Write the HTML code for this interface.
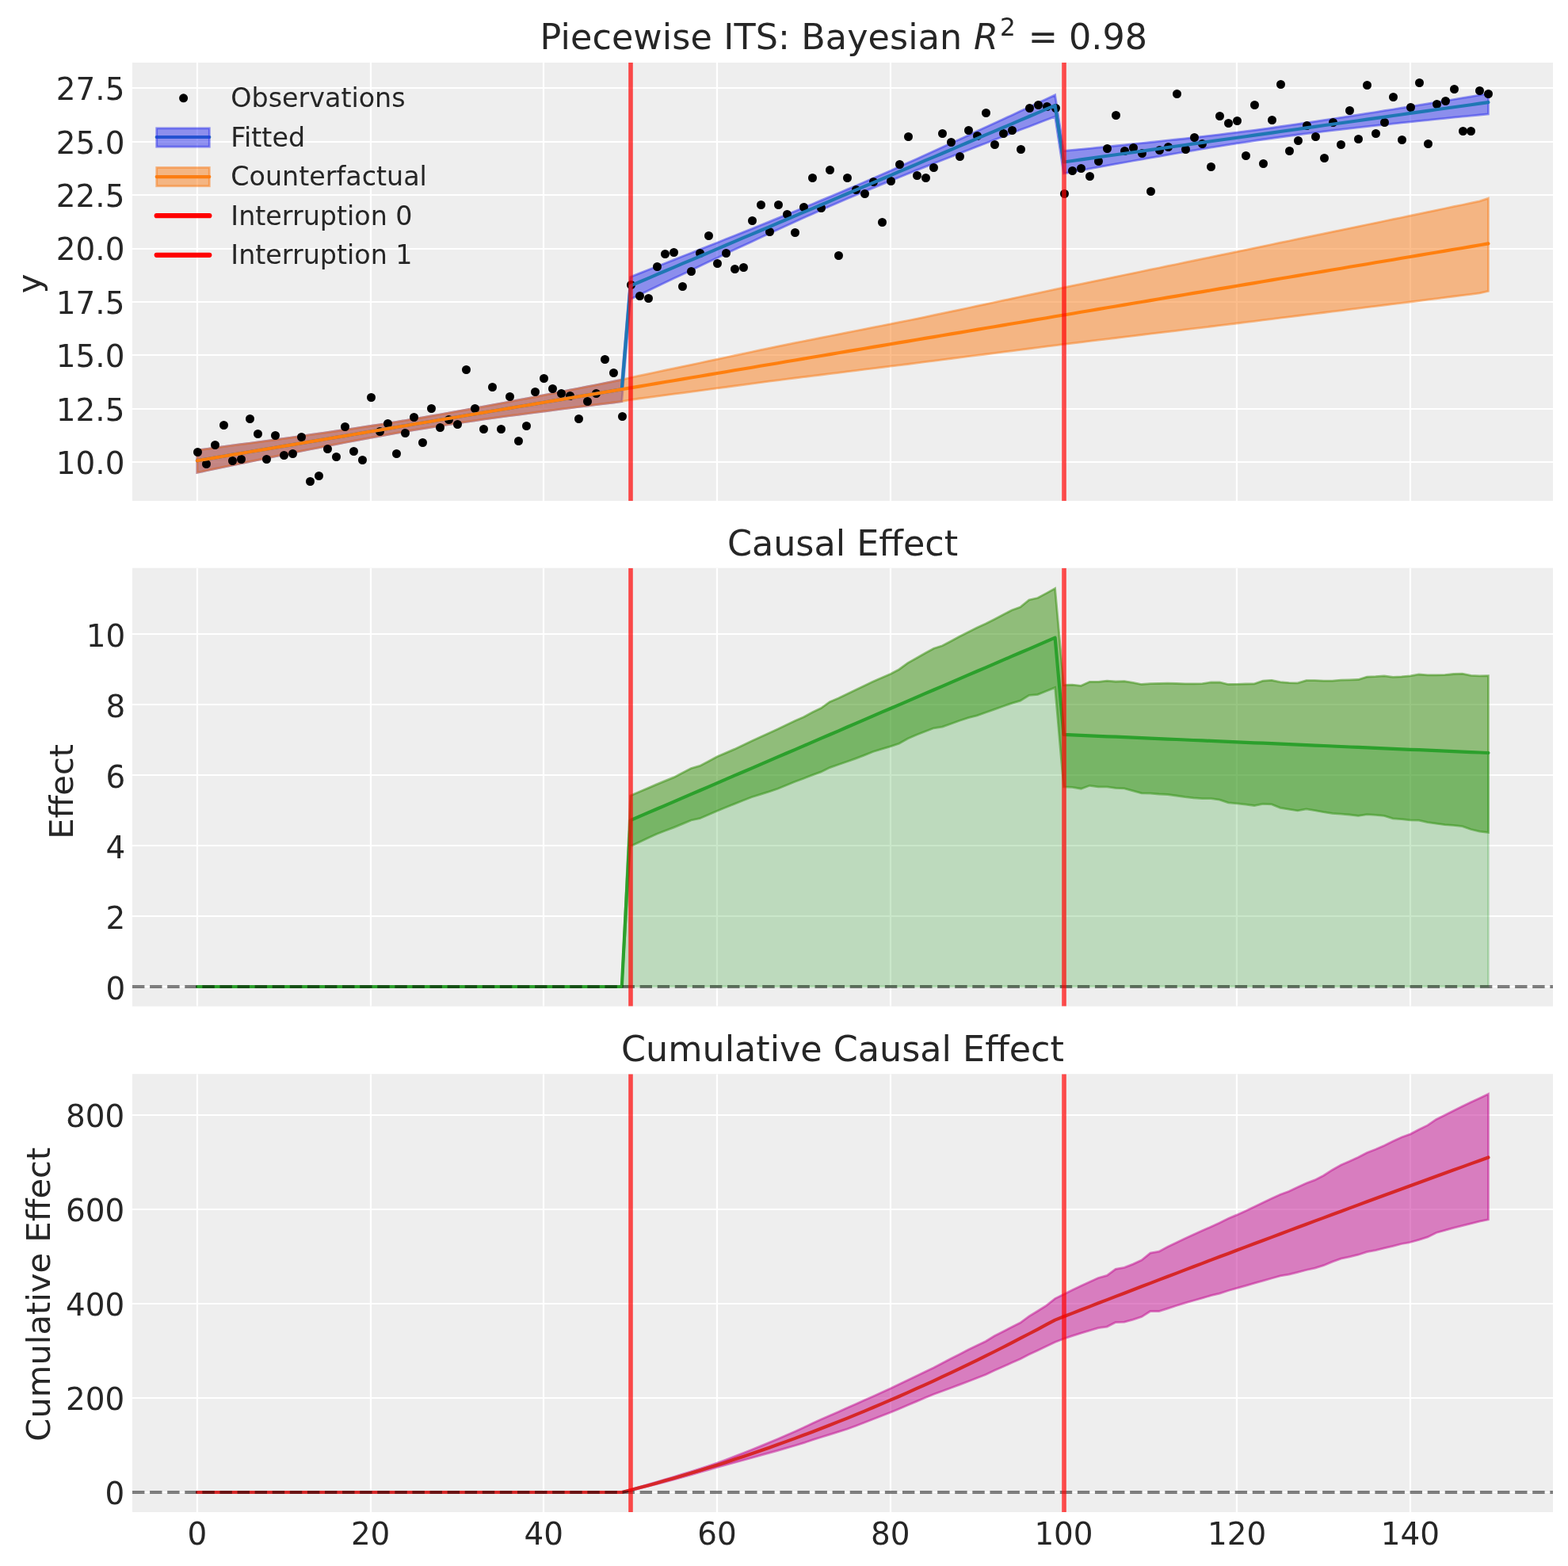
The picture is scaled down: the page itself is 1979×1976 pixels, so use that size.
<!DOCTYPE html>
<html lang="en"><head><meta charset="utf-8"><title>Piecewise ITS</title>
<style>html,body{margin:0;padding:0;background:#fff;overflow:hidden}svg{display:block}</style></head>
<body>
<svg width="1979" height="1976" viewBox="0 0 1979 1976" font-family='"DejaVu Sans", "Liberation Sans", sans-serif' fill="#262626">
<rect width="1979" height="1976" fill="#fff"/>
<defs>
<clipPath id="c1"><rect x="167.0" y="79.0" width="1793.0" height="553.0"/></clipPath>
<clipPath id="c2"><rect x="167.0" y="716.7" width="1793.0" height="553.0999999999999"/></clipPath>
<clipPath id="c3"><rect x="167.0" y="1355.2" width="1793.0" height="552.8"/></clipPath>
</defs>
<rect x="167.0" y="79.0" width="1793.0" height="553.0" fill="#eeeeee"/>
<g stroke="#fff" stroke-width="2.22" clip-path="url(#c1)">
<line x1="249" y1="79.0" x2="249" y2="632.0"/>
<line x1="468" y1="79.0" x2="468" y2="632.0"/>
<line x1="686" y1="79.0" x2="686" y2="632.0"/>
<line x1="905" y1="79.0" x2="905" y2="632.0"/>
<line x1="1124" y1="79.0" x2="1124" y2="632.0"/>
<line x1="1342" y1="79.0" x2="1342" y2="632.0"/>
<line x1="1561" y1="79.0" x2="1561" y2="632.0"/>
<line x1="1780" y1="79.0" x2="1780" y2="632.0"/>
<line x1="167.0" y1="583.00" x2="1960.0" y2="583.00"/>
<line x1="167.0" y1="516.00" x2="1960.0" y2="516.00"/>
<line x1="167.0" y1="448.00" x2="1960.0" y2="448.00"/>
<line x1="167.0" y1="381.00" x2="1960.0" y2="381.00"/>
<line x1="167.0" y1="314.00" x2="1960.0" y2="314.00"/>
<line x1="167.0" y1="246.00" x2="1960.0" y2="246.00"/>
<line x1="167.0" y1="179.00" x2="1960.0" y2="179.00"/>
<line x1="167.0" y1="111.00" x2="1960.0" y2="111.00"/>
</g>
<g clip-path="url(#c1)">
<polygon points="248.9,568.0 259.8,566.6 270.8,565.1 281.7,563.7 292.6,562.2 303.6,560.7 314.5,559.3 325.5,557.8 336.4,556.3 347.3,554.8 358.3,553.3 369.2,551.8 380.1,550.3 391.1,548.7 402.0,547.2 412.9,545.6 423.9,544.0 434.8,542.4 445.7,540.8 456.7,539.1 467.6,537.5 478.6,535.8 489.5,534.0 500.4,532.3 511.4,530.5 522.3,528.6 533.2,526.8 544.2,524.9 555.1,523.0 566.0,521.1 577.0,519.1 587.9,517.2 598.9,515.2 609.8,513.2 620.7,511.1 631.7,509.1 642.6,507.0 653.5,504.9 664.5,502.9 675.4,500.8 686.3,498.6 697.3,496.5 708.2,494.4 719.1,492.2 730.1,490.1 741.0,487.9 752.0,485.8 762.9,483.6 773.8,481.4 784.8,479.2 795.7,349.4 806.6,345.1 817.6,340.8 828.5,336.5 839.4,332.2 850.4,327.9 861.3,323.5 872.3,319.2 883.2,314.9 894.1,310.5 905.1,306.2 916.0,301.8 926.9,297.5 937.9,293.1 948.8,288.7 959.7,284.3 970.7,279.9 981.6,275.4 992.5,271.0 1003.5,266.5 1014.4,262.0 1025.4,257.5 1036.3,252.9 1047.2,248.4 1058.2,243.8 1069.1,239.1 1080.0,234.5 1091.0,229.8 1101.9,225.0 1112.8,220.2 1123.8,215.4 1134.7,210.5 1145.7,205.6 1156.6,200.7 1167.5,195.7 1178.5,190.7 1189.4,185.7 1200.3,180.7 1211.3,175.7 1222.2,170.7 1233.1,165.6 1244.1,160.6 1255.0,155.5 1265.9,150.4 1276.9,145.4 1287.8,140.3 1298.8,135.2 1309.7,130.1 1320.6,125.0 1331.6,119.9 1342.5,190.5 1353.4,189.4 1364.4,188.3 1375.3,187.3 1386.2,186.2 1397.2,185.1 1408.1,184.0 1419.1,182.9 1430.0,181.7 1440.9,180.6 1451.9,179.5 1462.8,178.3 1473.7,177.2 1484.7,176.0 1495.6,174.8 1506.5,173.6 1517.5,172.3 1528.4,171.1 1539.3,169.8 1550.3,168.4 1561.2,167.1 1572.2,165.7 1583.1,164.3 1594.0,162.8 1605.0,161.3 1615.9,159.7 1626.8,158.2 1637.8,156.6 1648.7,155.0 1659.6,153.3 1670.6,151.7 1681.5,150.0 1692.5,148.3 1703.4,146.7 1714.3,144.9 1725.3,143.2 1736.2,141.5 1747.1,139.7 1758.1,138.0 1769.0,136.2 1779.9,134.5 1790.9,132.7 1801.8,130.9 1812.7,129.1 1823.7,127.3 1834.6,125.5 1845.6,123.7 1856.5,121.9 1867.4,120.0 1878.4,118.2 1878.4,143.9 1867.4,145.0 1856.5,146.1 1845.6,147.1 1834.6,148.2 1823.7,149.3 1812.7,150.4 1801.8,151.6 1790.9,152.7 1779.9,153.8 1769.0,154.9 1758.1,156.1 1747.1,157.3 1736.2,158.4 1725.3,159.6 1714.3,160.8 1703.4,162.1 1692.5,163.3 1681.5,164.6 1670.6,165.9 1659.6,167.3 1648.7,168.6 1637.8,170.0 1626.8,171.5 1615.9,173.0 1605.0,174.5 1594.0,176.0 1583.1,177.6 1572.2,179.3 1561.2,180.9 1550.3,182.6 1539.3,184.4 1528.4,186.1 1517.5,187.9 1506.5,189.8 1495.6,191.6 1484.7,193.5 1473.7,195.4 1462.8,197.3 1451.9,199.2 1440.9,201.1 1430.0,203.0 1419.1,205.0 1408.1,206.9 1397.2,208.9 1386.2,210.9 1375.3,212.8 1364.4,214.8 1353.4,216.8 1342.5,218.8 1331.6,147.1 1320.6,151.3 1309.7,155.5 1298.8,159.7 1287.8,163.8 1276.9,168.0 1265.9,172.3 1255.0,176.5 1244.1,180.7 1233.1,184.9 1222.2,189.2 1211.3,193.4 1200.3,197.7 1189.4,202.0 1178.5,206.3 1167.5,210.6 1156.6,214.9 1145.7,219.3 1134.7,223.7 1123.8,228.1 1112.8,232.6 1101.9,237.1 1091.0,241.6 1080.0,246.2 1069.1,250.8 1058.2,255.5 1047.2,260.2 1036.3,265.0 1025.4,269.9 1014.4,274.8 1003.5,279.7 992.5,284.7 981.6,289.7 970.7,294.7 959.7,299.8 948.8,304.9 937.9,310.0 926.9,315.1 916.0,320.3 905.1,325.4 894.1,330.6 883.2,335.8 872.3,341.0 861.3,346.2 850.4,351.3 839.4,356.5 828.5,361.8 817.6,367.0 806.6,372.2 795.7,377.4 784.8,506.6 773.8,508.0 762.9,509.3 752.0,510.7 741.0,512.0 730.1,513.4 719.1,514.8 708.2,516.2 697.3,517.6 686.3,519.0 675.4,520.4 664.5,521.8 653.5,523.3 642.6,524.7 631.7,526.2 620.7,527.7 609.8,529.2 598.9,530.8 587.9,532.4 577.0,534.0 566.0,535.6 555.1,537.3 544.2,539.1 533.2,540.8 522.3,542.6 511.4,544.5 500.4,546.4 489.5,548.3 478.6,550.3 467.6,552.3 456.7,554.3 445.7,556.4 434.8,558.5 423.9,560.6 412.9,562.7 402.0,564.9 391.1,567.0 380.1,569.2 369.2,571.4 358.3,573.6 347.3,575.9 336.4,578.1 325.5,580.4 314.5,582.6 303.6,584.9 292.6,587.2 281.7,589.4 270.8,591.7 259.8,594.0 248.9,596.3" fill="#2a2eec" fill-opacity="0.5" stroke="#2a2eec" stroke-opacity="0.5" stroke-width="2.78" stroke-linejoin="miter"/>
<polygon points="248.9,568.0 259.8,566.6 270.8,565.1 281.7,563.7 292.6,562.2 303.6,560.7 314.5,559.3 325.5,557.8 336.4,556.3 347.3,554.8 358.3,553.3 369.2,551.8 380.1,550.3 391.1,548.7 402.0,547.2 412.9,545.6 423.9,544.0 434.8,542.4 445.7,540.8 456.7,539.1 467.6,537.5 478.6,535.8 489.5,534.0 500.4,532.3 511.4,530.5 522.3,528.6 533.2,526.8 544.2,524.9 555.1,523.0 566.0,521.1 577.0,519.1 587.9,517.2 598.9,515.2 609.8,513.2 620.7,511.1 631.7,509.1 642.6,507.0 653.5,504.9 664.5,502.9 675.4,500.8 686.3,498.6 697.3,496.5 708.2,494.4 719.1,492.2 730.1,490.1 741.0,487.9 752.0,485.8 762.9,483.6 773.8,481.4 784.8,479.2 795.7,476.5 806.6,474.2 817.6,471.9 828.5,469.5 839.4,467.2 850.4,464.9 861.3,462.6 872.3,460.3 883.2,458.0 894.1,455.6 905.1,453.3 916.0,451.0 926.9,448.7 937.9,446.4 948.8,444.0 959.7,441.7 970.7,439.4 981.6,437.1 992.5,434.9 1003.5,432.7 1014.4,430.5 1025.4,428.4 1036.3,426.2 1047.2,424.0 1058.2,421.8 1069.1,419.7 1080.0,417.5 1091.0,415.3 1101.9,413.2 1112.8,411.0 1123.8,408.8 1134.7,406.7 1145.7,404.5 1156.6,402.3 1167.5,400.1 1178.5,397.7 1189.4,395.4 1200.3,393.1 1211.3,390.8 1222.2,388.5 1233.1,386.1 1244.1,383.8 1255.0,381.5 1265.9,379.2 1276.9,376.8 1287.8,374.5 1298.8,372.2 1309.7,369.9 1320.6,367.5 1331.6,365.2 1342.5,362.9 1353.4,360.6 1364.4,358.4 1375.3,356.1 1386.2,353.8 1397.2,351.6 1408.1,349.3 1419.1,347.0 1430.0,344.8 1440.9,342.5 1451.9,340.2 1462.8,338.0 1473.7,335.7 1484.7,333.5 1495.6,331.2 1506.5,328.9 1517.5,326.7 1528.4,324.4 1539.3,322.1 1550.3,319.9 1561.2,317.6 1572.2,315.3 1583.1,313.1 1594.0,310.8 1605.0,308.5 1615.9,306.2 1626.8,304.0 1637.8,301.7 1648.7,299.4 1659.6,297.2 1670.6,294.9 1681.5,292.6 1692.5,290.3 1703.4,288.1 1714.3,285.8 1725.3,283.5 1736.2,281.3 1747.1,279.0 1758.1,276.7 1769.0,274.5 1779.9,272.2 1790.9,269.9 1801.8,267.6 1812.7,265.3 1823.7,263.0 1834.6,260.7 1845.6,258.5 1856.5,256.2 1867.4,253.9 1878.4,250.2 1878.4,367.4 1867.4,369.9 1856.5,371.3 1845.6,372.7 1834.6,374.0 1823.7,375.4 1812.7,376.8 1801.8,378.2 1790.9,379.6 1779.9,381.0 1769.0,382.3 1758.1,383.7 1747.1,385.0 1736.2,386.4 1725.3,387.7 1714.3,389.1 1703.4,390.4 1692.5,391.8 1681.5,393.1 1670.6,394.5 1659.6,395.8 1648.7,397.2 1637.8,398.5 1626.8,399.9 1615.9,401.2 1605.0,402.6 1594.0,403.9 1583.1,405.3 1572.2,406.6 1561.2,408.0 1550.3,409.3 1539.3,410.7 1528.4,412.0 1517.5,413.3 1506.5,414.6 1495.6,415.9 1484.7,417.3 1473.7,418.6 1462.8,419.9 1451.9,421.2 1440.9,422.5 1430.0,423.9 1419.1,425.2 1408.1,426.5 1397.2,427.8 1386.2,429.1 1375.3,430.4 1364.4,431.8 1353.4,433.1 1342.5,434.4 1331.6,435.8 1320.6,437.2 1309.7,438.6 1298.8,440.0 1287.8,441.4 1276.9,442.8 1265.9,444.2 1255.0,445.6 1244.1,447.0 1233.1,448.3 1222.2,449.7 1211.3,451.1 1200.3,452.5 1189.4,453.9 1178.5,455.3 1167.5,456.7 1156.6,458.1 1145.7,459.5 1134.7,460.8 1123.8,462.2 1112.8,463.5 1101.9,464.9 1091.0,466.2 1080.0,467.6 1069.1,468.9 1058.2,470.3 1047.2,471.6 1036.3,473.0 1025.4,474.3 1014.4,475.7 1003.5,477.0 992.5,478.4 981.6,479.8 970.7,481.2 959.7,482.7 948.8,484.1 937.9,485.6 926.9,487.0 916.0,488.5 905.1,489.9 894.1,491.4 883.2,492.9 872.3,494.3 861.3,495.8 850.4,497.2 839.4,498.7 828.5,500.1 817.6,501.6 806.6,503.0 795.7,504.5 784.8,506.6 773.8,508.0 762.9,509.3 752.0,510.7 741.0,512.0 730.1,513.4 719.1,514.8 708.2,516.2 697.3,517.6 686.3,519.0 675.4,520.4 664.5,521.8 653.5,523.3 642.6,524.7 631.7,526.2 620.7,527.7 609.8,529.2 598.9,530.8 587.9,532.4 577.0,534.0 566.0,535.6 555.1,537.3 544.2,539.1 533.2,540.8 522.3,542.6 511.4,544.5 500.4,546.4 489.5,548.3 478.6,550.3 467.6,552.3 456.7,554.3 445.7,556.4 434.8,558.5 423.9,560.6 412.9,562.7 402.0,564.9 391.1,567.0 380.1,569.2 369.2,571.4 358.3,573.6 347.3,575.9 336.4,578.1 325.5,580.4 314.5,582.6 303.6,584.9 292.6,587.2 281.7,589.4 270.8,591.7 259.8,594.0 248.9,596.3" fill="#fa7c17" fill-opacity="0.5" stroke="#fa7c17" stroke-opacity="0.5" stroke-width="2.78" stroke-linejoin="miter"/>
<g fill="#000"><circle cx="249.5" cy="570.5" r="5.5"/><circle cx="260.5" cy="585.5" r="5.5"/><circle cx="271.5" cy="561.5" r="5.5"/><circle cx="282.5" cy="536.5" r="5.5"/><circle cx="293.5" cy="581.5" r="5.5"/><circle cx="304.5" cy="579.5" r="5.5"/><circle cx="315.5" cy="528.5" r="5.5"/><circle cx="325.5" cy="547.5" r="5.5"/><circle cx="336.5" cy="579.5" r="5.5"/><circle cx="347.5" cy="549.5" r="5.5"/><circle cx="358.5" cy="574.5" r="5.5"/><circle cx="369.5" cy="572.5" r="5.5"/><circle cx="380.5" cy="551.5" r="5.5"/><circle cx="391.5" cy="607.5" r="5.5"/><circle cx="402.5" cy="600.5" r="5.5"/><circle cx="413.5" cy="566.5" r="5.5"/><circle cx="424.5" cy="576.5" r="5.5"/><circle cx="435.5" cy="538.5" r="5.5"/><circle cx="446.5" cy="569.5" r="5.5"/><circle cx="457.5" cy="580.5" r="5.5"/><circle cx="468.5" cy="501.5" r="5.5"/><circle cx="479.5" cy="544.5" r="5.5"/><circle cx="489.5" cy="534.5" r="5.5"/><circle cx="500.5" cy="572.5" r="5.5"/><circle cx="511.5" cy="546.5" r="5.5"/><circle cx="522.5" cy="526.5" r="5.5"/><circle cx="533.5" cy="558.5" r="5.5"/><circle cx="544.5" cy="515.5" r="5.5"/><circle cx="555.5" cy="539.5" r="5.5"/><circle cx="566.5" cy="529.5" r="5.5"/><circle cx="577.5" cy="535.5" r="5.5"/><circle cx="588.5" cy="466.5" r="5.5"/><circle cx="599.5" cy="515.5" r="5.5"/><circle cx="610.5" cy="541.5" r="5.5"/><circle cx="621.5" cy="488.5" r="5.5"/><circle cx="632.5" cy="541.5" r="5.5"/><circle cx="643.5" cy="500.5" r="5.5"/><circle cx="654.5" cy="556.5" r="5.5"/><circle cx="664.5" cy="537.5" r="5.5"/><circle cx="675.5" cy="494.5" r="5.5"/><circle cx="686.5" cy="477.5" r="5.5"/><circle cx="697.5" cy="490.5" r="5.5"/><circle cx="708.5" cy="496.5" r="5.5"/><circle cx="719.5" cy="499.5" r="5.5"/><circle cx="730.5" cy="528.5" r="5.5"/><circle cx="741.5" cy="506.5" r="5.5"/><circle cx="752.5" cy="496.5" r="5.5"/><circle cx="763.5" cy="453.5" r="5.5"/><circle cx="774.5" cy="470.5" r="5.5"/><circle cx="785.5" cy="525.5" r="5.5"/><circle cx="796.5" cy="359.5" r="5.5"/><circle cx="807.5" cy="373.5" r="5.5"/><circle cx="818.5" cy="376.5" r="5.5"/><circle cx="829.5" cy="336.5" r="5.5"/><circle cx="839.5" cy="320.5" r="5.5"/><circle cx="850.5" cy="318.5" r="5.5"/><circle cx="861.5" cy="361.5" r="5.5"/><circle cx="872.5" cy="342.5" r="5.5"/><circle cx="883.5" cy="319.5" r="5.5"/><circle cx="894.5" cy="297.5" r="5.5"/><circle cx="905.5" cy="332.5" r="5.5"/><circle cx="916.5" cy="319.5" r="5.5"/><circle cx="927.5" cy="339.5" r="5.5"/><circle cx="938.5" cy="337.5" r="5.5"/><circle cx="949.5" cy="278.5" r="5.5"/><circle cx="960.5" cy="258.5" r="5.5"/><circle cx="971.5" cy="292.5" r="5.5"/><circle cx="982.5" cy="258.5" r="5.5"/><circle cx="993.5" cy="270.5" r="5.5"/><circle cx="1003.5" cy="293.5" r="5.5"/><circle cx="1014.5" cy="261.5" r="5.5"/><circle cx="1025.5" cy="224.5" r="5.5"/><circle cx="1036.5" cy="262.5" r="5.5"/><circle cx="1047.5" cy="214.5" r="5.5"/><circle cx="1058.5" cy="322.5" r="5.5"/><circle cx="1069.5" cy="224.5" r="5.5"/><circle cx="1080.5" cy="239.5" r="5.5"/><circle cx="1091.5" cy="244.5" r="5.5"/><circle cx="1102.5" cy="229.5" r="5.5"/><circle cx="1113.5" cy="280.5" r="5.5"/><circle cx="1124.5" cy="228.5" r="5.5"/><circle cx="1135.5" cy="207.5" r="5.5"/><circle cx="1146.5" cy="172.5" r="5.5"/><circle cx="1157.5" cy="221.5" r="5.5"/><circle cx="1168.5" cy="224.5" r="5.5"/><circle cx="1178.5" cy="211.5" r="5.5"/><circle cx="1189.5" cy="168.5" r="5.5"/><circle cx="1200.5" cy="179.5" r="5.5"/><circle cx="1211.5" cy="197.5" r="5.5"/><circle cx="1222.5" cy="164.5" r="5.5"/><circle cx="1233.5" cy="171.5" r="5.5"/><circle cx="1244.5" cy="142.5" r="5.5"/><circle cx="1255.5" cy="182.5" r="5.5"/><circle cx="1266.5" cy="168.5" r="5.5"/><circle cx="1277.5" cy="164.5" r="5.5"/><circle cx="1288.5" cy="188.5" r="5.5"/><circle cx="1299.5" cy="136.5" r="5.5"/><circle cx="1310.5" cy="132.5" r="5.5"/><circle cx="1321.5" cy="134.5" r="5.5"/><circle cx="1332.5" cy="136.5" r="5.5"/><circle cx="1343.5" cy="244.5" r="5.5"/><circle cx="1353.5" cy="215.5" r="5.5"/><circle cx="1364.5" cy="212.5" r="5.5"/><circle cx="1375.5" cy="222.5" r="5.5"/><circle cx="1386.5" cy="203.5" r="5.5"/><circle cx="1397.5" cy="187.5" r="5.5"/><circle cx="1408.5" cy="145.5" r="5.5"/><circle cx="1419.5" cy="190.5" r="5.5"/><circle cx="1430.5" cy="186.5" r="5.5"/><circle cx="1441.5" cy="193.5" r="5.5"/><circle cx="1452.5" cy="241.5" r="5.5"/><circle cx="1463.5" cy="189.5" r="5.5"/><circle cx="1474.5" cy="185.5" r="5.5"/><circle cx="1485.5" cy="118.5" r="5.5"/><circle cx="1496.5" cy="188.5" r="5.5"/><circle cx="1507.5" cy="173.5" r="5.5"/><circle cx="1517.5" cy="181.5" r="5.5"/><circle cx="1528.5" cy="210.5" r="5.5"/><circle cx="1539.5" cy="146.5" r="5.5"/><circle cx="1550.5" cy="155.5" r="5.5"/><circle cx="1561.5" cy="152.5" r="5.5"/><circle cx="1572.5" cy="196.5" r="5.5"/><circle cx="1583.5" cy="132.5" r="5.5"/><circle cx="1594.5" cy="206.5" r="5.5"/><circle cx="1605.5" cy="151.5" r="5.5"/><circle cx="1616.5" cy="106.5" r="5.5"/><circle cx="1627.5" cy="190.5" r="5.5"/><circle cx="1638.5" cy="177.5" r="5.5"/><circle cx="1649.5" cy="158.5" r="5.5"/><circle cx="1660.5" cy="172.5" r="5.5"/><circle cx="1671.5" cy="199.5" r="5.5"/><circle cx="1682.5" cy="154.5" r="5.5"/><circle cx="1692.5" cy="182.5" r="5.5"/><circle cx="1703.5" cy="139.5" r="5.5"/><circle cx="1714.5" cy="175.5" r="5.5"/><circle cx="1725.5" cy="107.5" r="5.5"/><circle cx="1736.5" cy="168.5" r="5.5"/><circle cx="1747.5" cy="154.5" r="5.5"/><circle cx="1758.5" cy="122.5" r="5.5"/><circle cx="1769.5" cy="176.5" r="5.5"/><circle cx="1780.5" cy="135.5" r="5.5"/><circle cx="1791.5" cy="104.5" r="5.5"/><circle cx="1802.5" cy="181.5" r="5.5"/><circle cx="1813.5" cy="131.5" r="5.5"/><circle cx="1824.5" cy="127.5" r="5.5"/><circle cx="1835.5" cy="112.5" r="5.5"/><circle cx="1846.5" cy="165.5" r="5.5"/><circle cx="1856.5" cy="165.5" r="5.5"/><circle cx="1867.5" cy="114.5" r="5.5"/><circle cx="1878.5" cy="118.5" r="5.5"/></g>
<polyline points="248.9,581.3 259.8,579.5 270.8,577.6 281.7,575.8 292.6,573.9 303.6,572.1 314.5,570.3 325.5,568.4 336.4,566.6 347.3,564.8 358.3,562.9 369.2,561.1 380.1,559.2 391.1,557.4 402.0,555.6 412.9,553.7 423.9,551.9 434.8,550.1 445.7,548.2 456.7,546.4 467.6,544.5 478.6,542.7 489.5,540.9 500.4,539.0 511.4,537.2 522.3,535.3 533.2,533.5 544.2,531.7 555.1,529.8 566.0,528.0 577.0,526.2 587.9,524.3 598.9,522.5 609.8,520.6 620.7,518.8 631.7,517.0 642.6,515.1 653.5,513.3 664.5,511.5 675.4,509.6 686.3,507.8 697.3,505.9 708.2,504.1 719.1,502.3 730.1,500.4 741.0,498.6 752.0,496.8 762.9,494.9 773.8,493.1 784.8,491.2 795.7,360.6 806.6,356.0 817.6,351.3 828.5,346.7 839.4,342.0 850.4,337.4 861.3,332.7 872.3,328.1 883.2,323.5 894.1,318.8 905.1,314.2 916.0,309.5 926.9,304.9 937.9,300.2 948.8,295.6 959.7,291.0 970.7,286.3 981.6,281.7 992.5,277.0 1003.5,272.4 1014.4,267.7 1025.4,263.1 1036.3,258.5 1047.2,253.8 1058.2,249.2 1069.1,244.5 1080.0,239.9 1091.0,235.2 1101.9,230.6 1112.8,226.0 1123.8,221.3 1134.7,216.7 1145.7,212.0 1156.6,207.4 1167.5,202.7 1178.5,198.1 1189.4,193.5 1200.3,188.8 1211.3,184.2 1222.2,179.5 1233.1,174.9 1244.1,170.2 1255.0,165.6 1265.9,161.0 1276.9,156.3 1287.8,151.7 1298.8,147.0 1309.7,142.4 1320.6,137.7 1331.6,133.1 1342.5,204.5 1353.4,203.0 1364.4,201.4 1375.3,199.9 1386.2,198.3 1397.2,196.8 1408.1,195.3 1419.1,193.7 1430.0,192.2 1440.9,190.7 1451.9,189.1 1462.8,187.6 1473.7,186.0 1484.7,184.5 1495.6,183.0 1506.5,181.4 1517.5,179.9 1528.4,178.3 1539.3,176.8 1550.3,175.3 1561.2,173.7 1572.2,172.2 1583.1,170.6 1594.0,169.1 1605.0,167.6 1615.9,166.0 1626.8,164.5 1637.8,163.0 1648.7,161.4 1659.6,159.9 1670.6,158.3 1681.5,156.8 1692.5,155.3 1703.4,153.7 1714.3,152.2 1725.3,150.6 1736.2,149.1 1747.1,147.6 1758.1,146.0 1769.0,144.5 1779.9,142.9 1790.9,141.4 1801.8,139.9 1812.7,138.3 1823.7,136.8 1834.6,135.3 1845.6,133.7 1856.5,132.2 1867.4,130.6 1878.4,129.1" fill="none" stroke="#1f77b4" stroke-width="4.17" stroke-linecap="round" stroke-linejoin="round"/>
<polyline points="248.9,581.3 259.8,579.5 270.8,577.6 281.7,575.8 292.6,573.9 303.6,572.1 314.5,570.3 325.5,568.4 336.4,566.6 347.3,564.8 358.3,562.9 369.2,561.1 380.1,559.2 391.1,557.4 402.0,555.6 412.9,553.7 423.9,551.9 434.8,550.1 445.7,548.2 456.7,546.4 467.6,544.5 478.6,542.7 489.5,540.9 500.4,539.0 511.4,537.2 522.3,535.3 533.2,533.5 544.2,531.7 555.1,529.8 566.0,528.0 577.0,526.2 587.9,524.3 598.9,522.5 609.8,520.6 620.7,518.8 631.7,517.0 642.6,515.1 653.5,513.3 664.5,511.5 675.4,509.6 686.3,507.8 697.3,505.9 708.2,504.1 719.1,502.3 730.1,500.4 741.0,498.6 752.0,496.8 762.9,494.9 773.8,493.1 784.8,491.2 795.7,489.4 806.6,487.6 817.6,485.7 828.5,483.9 839.4,482.0 850.4,480.2 861.3,478.4 872.3,476.5 883.2,474.7 894.1,472.9 905.1,471.0 916.0,469.2 926.9,467.3 937.9,465.5 948.8,463.7 959.7,461.8 970.7,460.0 981.6,458.2 992.5,456.3 1003.5,454.5 1014.4,452.6 1025.4,450.8 1036.3,449.0 1047.2,447.1 1058.2,445.3 1069.1,443.4 1080.0,441.6 1091.0,439.8 1101.9,437.9 1112.8,436.1 1123.8,434.3 1134.7,432.4 1145.7,430.6 1156.6,428.7 1167.5,426.9 1178.5,425.1 1189.4,423.2 1200.3,421.4 1211.3,419.6 1222.2,417.7 1233.1,415.9 1244.1,414.0 1255.0,412.2 1265.9,410.4 1276.9,408.5 1287.8,406.7 1298.8,404.9 1309.7,403.0 1320.6,401.2 1331.6,399.3 1342.5,397.5 1353.4,395.7 1364.4,393.8 1375.3,392.0 1386.2,390.1 1397.2,388.3 1408.1,386.5 1419.1,384.6 1430.0,382.8 1440.9,381.0 1451.9,379.1 1462.8,377.3 1473.7,375.4 1484.7,373.6 1495.6,371.8 1506.5,369.9 1517.5,368.1 1528.4,366.3 1539.3,364.4 1550.3,362.6 1561.2,360.7 1572.2,358.9 1583.1,357.1 1594.0,355.2 1605.0,353.4 1615.9,351.5 1626.8,349.7 1637.8,347.9 1648.7,346.0 1659.6,344.2 1670.6,342.4 1681.5,340.5 1692.5,338.7 1703.4,336.8 1714.3,335.0 1725.3,333.2 1736.2,331.3 1747.1,329.5 1758.1,327.7 1769.0,325.8 1779.9,324.0 1790.9,322.1 1801.8,320.3 1812.7,318.5 1823.7,316.6 1834.6,314.8 1845.6,313.0 1856.5,311.1 1867.4,309.3 1878.4,307.4" fill="none" stroke="#ff7f0e" stroke-width="4.17" stroke-linecap="round" stroke-linejoin="round"/>
<line x1="796.0" y1="79.0" x2="796.0" y2="632.0" stroke="#ff0000" stroke-opacity="0.7" stroke-width="5.6"/>
<line x1="1343.0" y1="79.0" x2="1343.0" y2="632.0" stroke="#ff0000" stroke-opacity="0.7" stroke-width="5.6"/>
</g>
<text x="157.4" y="598.11" font-size="38.89" text-anchor="end">10.0</text>
<text x="157.4" y="530.68" font-size="38.89" text-anchor="end">12.5</text>
<text x="157.4" y="463.25" font-size="38.89" text-anchor="end">15.0</text>
<text x="157.4" y="395.82" font-size="38.89" text-anchor="end">17.5</text>
<text x="157.4" y="328.39" font-size="38.89" text-anchor="end">20.0</text>
<text x="157.4" y="260.96" font-size="38.89" text-anchor="end">22.5</text>
<text x="157.4" y="193.53" font-size="38.89" text-anchor="end">25.0</text>
<text x="157.4" y="126.10" font-size="38.89" text-anchor="end">27.5</text>
<circle cx="231.6" cy="123.80000000000001" r="5.5" fill="#000"/>
<line x1="197.7" y1="173.0" x2="264.3" y2="173.0" stroke="#1f77b4" stroke-width="4.17" stroke-linecap="round"/>
<rect x="197.7" y="161.83" width="66.6" height="23.33" fill="#2a2eec" fill-opacity="0.5" stroke="#2a2eec" stroke-opacity="0.5" stroke-width="2.78"/>
<line x1="197.7" y1="223.1" x2="264.3" y2="223.1" stroke="#ff7f0e" stroke-width="4.17" stroke-linecap="round"/>
<rect x="197.7" y="211.43" width="66.6" height="23.33" fill="#fa7c17" fill-opacity="0.5" stroke="#fa7c17" stroke-opacity="0.5" stroke-width="2.78"/>
<line x1="197.7" y1="272.2" x2="264.3" y2="272.2" stroke="#ff0000" stroke-width="6.2" stroke-linecap="round"/>
<line x1="197.7" y1="321.8" x2="264.3" y2="321.8" stroke="#ff0000" stroke-width="6.2" stroke-linecap="round"/>
<text x="291.3" y="135.00" font-size="33.33">Observations</text>
<text x="291.3" y="184.60" font-size="33.33">Fitted</text>
<text x="291.3" y="234.20" font-size="33.33">Counterfactual</text>
<text x="291.3" y="283.80" font-size="33.33">Interruption 0</text>
<text x="291.3" y="333.40" font-size="33.33">Interruption 1</text>
<text y="62.0" font-size="44.44"><tspan x="681.6" letter-spacing="0.1">Piecewise ITS: Bayesian </tspan><tspan font-style="italic" x="1229.0">R</tspan><tspan font-size="31.11" x="1262.0" y="44.8">2</tspan><tspan x="1283.5" y="62.0"> = 0.98</tspan></text>
<text transform="translate(51.0 357.8) rotate(-90)" font-size="41.67" text-anchor="middle">y</text>
<rect x="167.0" y="716.7" width="1793.0" height="553.0999999999999" fill="#eeeeee"/>
<g stroke="#fff" stroke-width="2.22" clip-path="url(#c2)">
<line x1="249" y1="716.7" x2="249" y2="1269.8"/>
<line x1="468" y1="716.7" x2="468" y2="1269.8"/>
<line x1="686" y1="716.7" x2="686" y2="1269.8"/>
<line x1="905" y1="716.7" x2="905" y2="1269.8"/>
<line x1="1124" y1="716.7" x2="1124" y2="1269.8"/>
<line x1="1342" y1="716.7" x2="1342" y2="1269.8"/>
<line x1="1561" y1="716.7" x2="1561" y2="1269.8"/>
<line x1="1780" y1="716.7" x2="1780" y2="1269.8"/>
<line x1="167.0" y1="1245.00" x2="1960.0" y2="1245.00"/>
<line x1="167.0" y1="1156.00" x2="1960.0" y2="1156.00"/>
<line x1="167.0" y1="1067.00" x2="1960.0" y2="1067.00"/>
<line x1="167.0" y1="978.00" x2="1960.0" y2="978.00"/>
<line x1="167.0" y1="889.00" x2="1960.0" y2="889.00"/>
<line x1="167.0" y1="800.00" x2="1960.0" y2="800.00"/>
</g>
<g clip-path="url(#c2)">
<polygon points="248.9,1245.0 259.8,1245.0 270.8,1245.0 281.7,1245.0 292.6,1245.0 303.6,1245.0 314.5,1245.0 325.5,1245.0 336.4,1245.0 347.3,1245.0 358.3,1245.0 369.2,1245.0 380.1,1245.0 391.1,1245.0 402.0,1245.0 412.9,1245.0 423.9,1245.0 434.8,1245.0 445.7,1245.0 456.7,1245.0 467.6,1245.0 478.6,1245.0 489.5,1245.0 500.4,1245.0 511.4,1245.0 522.3,1245.0 533.2,1245.0 544.2,1245.0 555.1,1245.0 566.0,1245.0 577.0,1245.0 587.9,1245.0 598.9,1245.0 609.8,1245.0 620.7,1245.0 631.7,1245.0 642.6,1245.0 653.5,1245.0 664.5,1245.0 675.4,1245.0 686.3,1245.0 697.3,1245.0 708.2,1245.0 719.1,1245.0 730.1,1245.0 741.0,1245.0 752.0,1245.0 762.9,1245.0 773.8,1245.0 784.8,1245.0 795.7,1004.0 806.6,999.3 817.6,994.6 828.5,989.9 839.4,985.4 850.4,980.9 861.3,975.3 872.3,969.5 883.2,966.4 894.1,960.7 905.1,954.7 916.0,950.1 926.9,945.4 937.9,940.2 948.8,935.0 959.7,930.0 970.7,925.0 981.6,919.9 992.5,914.8 1003.5,909.6 1014.4,904.8 1025.4,898.8 1036.3,893.6 1047.2,885.6 1058.2,881.0 1069.1,875.8 1080.0,870.4 1091.0,865.2 1101.9,860.1 1112.8,855.2 1123.8,850.4 1134.7,844.7 1145.7,836.6 1156.6,830.5 1167.5,824.3 1178.5,818.2 1189.4,814.7 1200.3,808.9 1211.3,803.1 1222.2,797.4 1233.1,792.1 1244.1,786.9 1255.0,781.4 1265.9,775.7 1276.9,770.0 1287.8,766.0 1298.8,757.0 1309.7,754.5 1320.6,748.6 1331.6,742.6 1342.5,864.5 1353.4,864.1 1364.4,865.3 1375.3,860.3 1386.2,860.3 1397.2,859.1 1408.1,860.0 1419.1,859.6 1430.0,861.4 1440.9,863.5 1451.9,862.7 1462.8,862.5 1473.7,862.2 1484.7,862.5 1495.6,862.8 1506.5,862.8 1517.5,862.7 1528.4,861.0 1539.3,861.0 1550.3,863.5 1561.2,863.3 1572.2,863.0 1583.1,862.8 1594.0,859.1 1605.0,858.3 1615.9,860.7 1626.8,861.6 1637.8,861.9 1648.7,858.6 1659.6,858.6 1670.6,859.1 1681.5,859.1 1692.5,858.2 1703.4,857.9 1714.3,857.5 1725.3,854.1 1736.2,853.7 1747.1,852.9 1758.1,854.4 1769.0,853.8 1779.9,852.9 1790.9,851.0 1801.8,851.8 1812.7,851.8 1823.7,851.6 1834.6,850.5 1845.6,850.1 1856.5,852.4 1867.4,852.9 1878.4,852.6 1878.4,1050.4 1867.4,1049.1 1856.5,1046.5 1845.6,1042.6 1834.6,1041.4 1823.7,1040.7 1812.7,1039.2 1801.8,1037.6 1790.9,1035.1 1779.9,1034.8 1769.0,1033.7 1758.1,1032.8 1747.1,1029.4 1736.2,1028.3 1725.3,1027.7 1714.3,1029.4 1703.4,1028.0 1692.5,1027.1 1681.5,1026.3 1670.6,1024.7 1659.6,1022.7 1648.7,1020.8 1637.8,1022.9 1626.8,1021.2 1615.9,1019.3 1605.0,1014.9 1594.0,1014.3 1583.1,1016.5 1572.2,1015.1 1561.2,1013.8 1550.3,1012.8 1539.3,1009.2 1528.4,1007.6 1517.5,1007.6 1506.5,1006.8 1495.6,1005.6 1484.7,1004.0 1473.7,1002.5 1462.8,1002.0 1451.9,1001.1 1440.9,1000.9 1430.0,997.8 1419.1,994.9 1408.1,994.4 1397.2,992.8 1386.2,992.8 1375.3,991.3 1364.4,995.2 1353.4,993.3 1342.5,992.8 1331.6,867.6 1320.6,872.0 1309.7,876.4 1298.8,877.3 1287.8,884.2 1276.9,887.4 1265.9,891.2 1255.0,895.1 1244.1,899.0 1233.1,902.9 1222.2,905.7 1211.3,909.3 1200.3,913.2 1189.4,917.1 1178.5,918.8 1167.5,923.0 1156.6,927.3 1145.7,932.1 1134.7,938.3 1123.8,941.9 1112.8,945.2 1101.9,948.5 1091.0,952.9 1080.0,957.1 1069.1,961.0 1058.2,964.8 1047.2,968.6 1036.3,973.9 1025.4,977.9 1014.4,982.2 1003.5,986.3 992.5,990.8 981.6,995.2 970.7,998.9 959.7,1002.3 948.8,1005.8 937.9,1010.0 926.9,1014.4 916.0,1018.8 905.1,1023.2 894.1,1028.1 883.2,1032.7 872.3,1035.0 861.3,1039.6 850.4,1044.1 839.4,1048.3 828.5,1052.5 817.6,1057.6 806.6,1062.7 795.7,1067.7 784.8,1245.0 773.8,1245.0 762.9,1245.0 752.0,1245.0 741.0,1245.0 730.1,1245.0 719.1,1245.0 708.2,1245.0 697.3,1245.0 686.3,1245.0 675.4,1245.0 664.5,1245.0 653.5,1245.0 642.6,1245.0 631.7,1245.0 620.7,1245.0 609.8,1245.0 598.9,1245.0 587.9,1245.0 577.0,1245.0 566.0,1245.0 555.1,1245.0 544.2,1245.0 533.2,1245.0 522.3,1245.0 511.4,1245.0 500.4,1245.0 489.5,1245.0 478.6,1245.0 467.6,1245.0 456.7,1245.0 445.7,1245.0 434.8,1245.0 423.9,1245.0 412.9,1245.0 402.0,1245.0 391.1,1245.0 380.1,1245.0 369.2,1245.0 358.3,1245.0 347.3,1245.0 336.4,1245.0 325.5,1245.0 314.5,1245.0 303.6,1245.0 292.6,1245.0 281.7,1245.0 270.8,1245.0 259.8,1245.0 248.9,1245.0" fill="#328c06" fill-opacity="0.5" stroke="#328c06" stroke-opacity="0.5" stroke-width="2.78" stroke-linejoin="miter"/>
<polygon points="248.9,1245.0 259.8,1245.0 270.8,1245.0 281.7,1245.0 292.6,1245.0 303.6,1245.0 314.5,1245.0 325.5,1245.0 336.4,1245.0 347.3,1245.0 358.3,1245.0 369.2,1245.0 380.1,1245.0 391.1,1245.0 402.0,1245.0 412.9,1245.0 423.9,1245.0 434.8,1245.0 445.7,1245.0 456.7,1245.0 467.6,1245.0 478.6,1245.0 489.5,1245.0 500.4,1245.0 511.4,1245.0 522.3,1245.0 533.2,1245.0 544.2,1245.0 555.1,1245.0 566.0,1245.0 577.0,1245.0 587.9,1245.0 598.9,1245.0 609.8,1245.0 620.7,1245.0 631.7,1245.0 642.6,1245.0 653.5,1245.0 664.5,1245.0 675.4,1245.0 686.3,1245.0 697.3,1245.0 708.2,1245.0 719.1,1245.0 730.1,1245.0 741.0,1245.0 752.0,1245.0 762.9,1245.0 773.8,1245.0 784.8,1245.0 795.7,1035.1 806.6,1030.4 817.6,1025.7 828.5,1021.0 839.4,1016.3 850.4,1011.6 861.3,1006.9 872.3,1002.2 883.2,997.5 894.1,992.8 905.1,988.1 916.0,983.4 926.9,978.7 937.9,974.0 948.8,969.3 959.7,964.6 970.7,959.9 981.6,955.2 992.5,950.5 1003.5,945.8 1014.4,941.1 1025.4,936.4 1036.3,931.7 1047.2,927.0 1058.2,922.3 1069.1,917.5 1080.0,912.8 1091.0,908.1 1101.9,903.4 1112.8,898.7 1123.8,894.0 1134.7,889.3 1145.7,884.6 1156.6,879.9 1167.5,875.2 1178.5,870.5 1189.4,865.8 1200.3,861.1 1211.3,856.4 1222.2,851.7 1233.1,847.0 1244.1,842.3 1255.0,837.6 1265.9,832.9 1276.9,828.2 1287.8,823.5 1298.8,818.8 1309.7,814.1 1320.6,809.4 1331.6,804.7 1342.5,926.9 1353.4,927.4 1364.4,927.8 1375.3,928.3 1386.2,928.8 1397.2,929.3 1408.1,929.7 1419.1,930.2 1430.0,930.7 1440.9,931.1 1451.9,931.6 1462.8,932.1 1473.7,932.6 1484.7,933.0 1495.6,933.5 1506.5,934.0 1517.5,934.4 1528.4,934.9 1539.3,935.4 1550.3,935.9 1561.2,936.3 1572.2,936.8 1583.1,937.3 1594.0,937.7 1605.0,938.2 1615.9,938.7 1626.8,939.2 1637.8,939.6 1648.7,940.1 1659.6,940.6 1670.6,941.0 1681.5,941.5 1692.5,942.0 1703.4,942.5 1714.3,942.9 1725.3,943.4 1736.2,943.9 1747.1,944.3 1758.1,944.8 1769.0,945.3 1779.9,945.8 1790.9,946.2 1801.8,946.7 1812.7,947.2 1823.7,947.6 1834.6,948.1 1845.6,948.6 1856.5,949.1 1867.4,949.5 1878.4,950.0 1878.4,1245.0 248.9,1245.0" fill="#2ca02c" fill-opacity="0.25" stroke="#2ca02c" stroke-opacity="0.25" stroke-width="2.78"/>
<polyline points="248.9,1245.0 259.8,1245.0 270.8,1245.0 281.7,1245.0 292.6,1245.0 303.6,1245.0 314.5,1245.0 325.5,1245.0 336.4,1245.0 347.3,1245.0 358.3,1245.0 369.2,1245.0 380.1,1245.0 391.1,1245.0 402.0,1245.0 412.9,1245.0 423.9,1245.0 434.8,1245.0 445.7,1245.0 456.7,1245.0 467.6,1245.0 478.6,1245.0 489.5,1245.0 500.4,1245.0 511.4,1245.0 522.3,1245.0 533.2,1245.0 544.2,1245.0 555.1,1245.0 566.0,1245.0 577.0,1245.0 587.9,1245.0 598.9,1245.0 609.8,1245.0 620.7,1245.0 631.7,1245.0 642.6,1245.0 653.5,1245.0 664.5,1245.0 675.4,1245.0 686.3,1245.0 697.3,1245.0 708.2,1245.0 719.1,1245.0 730.1,1245.0 741.0,1245.0 752.0,1245.0 762.9,1245.0 773.8,1245.0 784.8,1245.0 795.7,1035.1 806.6,1030.4 817.6,1025.7 828.5,1021.0 839.4,1016.3 850.4,1011.6 861.3,1006.9 872.3,1002.2 883.2,997.5 894.1,992.8 905.1,988.1 916.0,983.4 926.9,978.7 937.9,974.0 948.8,969.3 959.7,964.6 970.7,959.9 981.6,955.2 992.5,950.5 1003.5,945.8 1014.4,941.1 1025.4,936.4 1036.3,931.7 1047.2,927.0 1058.2,922.3 1069.1,917.5 1080.0,912.8 1091.0,908.1 1101.9,903.4 1112.8,898.7 1123.8,894.0 1134.7,889.3 1145.7,884.6 1156.6,879.9 1167.5,875.2 1178.5,870.5 1189.4,865.8 1200.3,861.1 1211.3,856.4 1222.2,851.7 1233.1,847.0 1244.1,842.3 1255.0,837.6 1265.9,832.9 1276.9,828.2 1287.8,823.5 1298.8,818.8 1309.7,814.1 1320.6,809.4 1331.6,804.7 1342.5,926.9 1353.4,927.4 1364.4,927.8 1375.3,928.3 1386.2,928.8 1397.2,929.3 1408.1,929.7 1419.1,930.2 1430.0,930.7 1440.9,931.1 1451.9,931.6 1462.8,932.1 1473.7,932.6 1484.7,933.0 1495.6,933.5 1506.5,934.0 1517.5,934.4 1528.4,934.9 1539.3,935.4 1550.3,935.9 1561.2,936.3 1572.2,936.8 1583.1,937.3 1594.0,937.7 1605.0,938.2 1615.9,938.7 1626.8,939.2 1637.8,939.6 1648.7,940.1 1659.6,940.6 1670.6,941.0 1681.5,941.5 1692.5,942.0 1703.4,942.5 1714.3,942.9 1725.3,943.4 1736.2,943.9 1747.1,944.3 1758.1,944.8 1769.0,945.3 1779.9,945.8 1790.9,946.2 1801.8,946.7 1812.7,947.2 1823.7,947.6 1834.6,948.1 1845.6,948.6 1856.5,949.1 1867.4,949.5 1878.4,950.0" fill="none" stroke="#2ca02c" stroke-width="4.17" stroke-linecap="round" stroke-linejoin="round"/>
<line x1="167.0" y1="1245.0" x2="1960.0" y2="1245.0" stroke="#000" stroke-opacity="0.5" stroke-width="4.17" stroke-dasharray="15.42 6.67"/>
<line x1="796.0" y1="716.7" x2="796.0" y2="1269.8" stroke="#ff0000" stroke-opacity="0.7" stroke-width="5.6"/>
<line x1="1343.0" y1="716.7" x2="1343.0" y2="1269.8" stroke="#ff0000" stroke-opacity="0.7" stroke-width="5.6"/>
</g>
<text x="158.3" y="1260.60" font-size="38.89" text-anchor="end">0</text>
<text x="158.3" y="1171.60" font-size="38.89" text-anchor="end">2</text>
<text x="158.3" y="1082.60" font-size="38.89" text-anchor="end">4</text>
<text x="158.3" y="993.60" font-size="38.89" text-anchor="end">6</text>
<text x="158.3" y="904.60" font-size="38.89" text-anchor="end">8</text>
<text x="158.3" y="815.60" font-size="38.89" text-anchor="end">10</text>
<text x="1063.5" y="700.9" font-size="44.44" text-anchor="middle">Causal Effect</text>
<text transform="translate(92.0 998.8) rotate(-90)" font-size="41.67" text-anchor="middle">Effect</text>
<rect x="167.0" y="1355.2" width="1793.0" height="552.8" fill="#eeeeee"/>
<g stroke="#fff" stroke-width="2.22" clip-path="url(#c3)">
<line x1="249" y1="1355.2" x2="249" y2="1908.0"/>
<line x1="468" y1="1355.2" x2="468" y2="1908.0"/>
<line x1="686" y1="1355.2" x2="686" y2="1908.0"/>
<line x1="905" y1="1355.2" x2="905" y2="1908.0"/>
<line x1="1124" y1="1355.2" x2="1124" y2="1908.0"/>
<line x1="1342" y1="1355.2" x2="1342" y2="1908.0"/>
<line x1="1561" y1="1355.2" x2="1561" y2="1908.0"/>
<line x1="1780" y1="1355.2" x2="1780" y2="1908.0"/>
<line x1="167.0" y1="1883.00" x2="1960.0" y2="1883.00"/>
<line x1="167.0" y1="1764.00" x2="1960.0" y2="1764.00"/>
<line x1="167.0" y1="1645.00" x2="1960.0" y2="1645.00"/>
<line x1="167.0" y1="1526.00" x2="1960.0" y2="1526.00"/>
<line x1="167.0" y1="1407.00" x2="1960.0" y2="1407.00"/>
</g>
<g clip-path="url(#c3)">
<polygon points="248.9,1883.0 259.8,1883.0 270.8,1883.0 281.7,1883.0 292.6,1883.0 303.6,1883.0 314.5,1883.0 325.5,1883.0 336.4,1883.0 347.3,1883.0 358.3,1883.0 369.2,1883.0 380.1,1883.0 391.1,1883.0 402.0,1883.0 412.9,1883.0 423.9,1883.0 434.8,1883.0 445.7,1883.0 456.7,1883.0 467.6,1883.0 478.6,1883.0 489.5,1883.0 500.4,1883.0 511.4,1883.0 522.3,1883.0 533.2,1883.0 544.2,1883.0 555.1,1883.0 566.0,1883.0 577.0,1883.0 587.9,1883.0 598.9,1883.0 609.8,1883.0 620.7,1883.0 631.7,1883.0 642.6,1883.0 653.5,1883.0 664.5,1883.0 675.4,1883.0 686.3,1883.0 697.3,1883.0 708.2,1883.0 719.1,1883.0 730.1,1883.0 741.0,1883.0 752.0,1883.0 762.9,1883.0 773.8,1883.0 784.8,1883.0 795.7,1879.6 806.6,1876.5 817.6,1873.4 828.5,1870.2 839.4,1866.9 850.4,1863.6 861.3,1860.2 872.3,1856.8 883.2,1853.3 894.1,1849.7 905.1,1846.1 916.0,1842.0 926.9,1837.8 937.9,1833.6 948.8,1829.3 959.7,1824.9 970.7,1820.3 981.6,1815.7 992.5,1810.9 1003.5,1806.2 1014.4,1801.3 1025.4,1795.9 1036.3,1791.1 1047.2,1786.2 1058.2,1781.4 1069.1,1776.6 1080.0,1771.7 1091.0,1766.8 1101.9,1761.9 1112.8,1757.0 1123.8,1752.1 1134.7,1746.8 1145.7,1741.6 1156.6,1736.3 1167.5,1731.1 1178.5,1725.7 1189.4,1720.0 1200.3,1714.3 1211.3,1708.7 1222.2,1703.1 1233.1,1697.8 1244.1,1692.5 1255.0,1685.8 1265.9,1680.2 1276.9,1674.6 1287.8,1669.0 1298.8,1660.9 1309.7,1654.2 1320.6,1647.4 1331.6,1638.6 1342.5,1633.2 1353.4,1627.7 1364.4,1622.6 1375.3,1617.6 1386.2,1612.5 1397.2,1609.4 1408.1,1601.3 1419.1,1599.4 1430.0,1595.1 1440.9,1590.1 1451.9,1581.1 1462.8,1579.2 1473.7,1573.3 1484.7,1567.9 1495.6,1562.7 1506.5,1557.8 1517.5,1552.8 1528.4,1548.0 1539.3,1543.0 1550.3,1537.5 1561.2,1532.9 1572.2,1527.9 1583.1,1522.8 1594.0,1517.6 1605.0,1512.3 1615.9,1507.3 1626.8,1503.2 1637.8,1498.0 1648.7,1493.0 1659.6,1488.9 1670.6,1483.2 1681.5,1476.2 1692.5,1470.0 1703.4,1465.3 1714.3,1460.3 1725.3,1454.4 1736.2,1450.2 1747.1,1445.4 1758.1,1440.1 1769.0,1435.0 1779.9,1431.1 1790.9,1425.3 1801.8,1419.9 1812.7,1412.4 1823.7,1407.0 1834.6,1401.5 1845.6,1396.1 1856.5,1390.7 1867.4,1385.7 1878.4,1380.5 1878.4,1538.9 1867.4,1541.2 1856.5,1543.9 1845.6,1546.6 1834.6,1549.3 1823.7,1552.4 1812.7,1555.5 1801.8,1560.9 1790.9,1564.4 1779.9,1567.5 1769.0,1569.5 1758.1,1572.3 1747.1,1574.9 1736.2,1577.6 1725.3,1579.6 1714.3,1583.2 1703.4,1585.8 1692.5,1588.2 1681.5,1592.1 1670.6,1596.7 1659.6,1600.1 1648.7,1602.5 1637.8,1605.3 1626.8,1608.1 1615.9,1609.9 1605.0,1613.0 1594.0,1616.1 1583.1,1619.2 1572.2,1622.3 1561.2,1625.4 1550.3,1628.5 1539.3,1632.1 1528.4,1634.7 1517.5,1637.9 1506.5,1641.0 1495.6,1644.1 1484.7,1647.5 1473.7,1651.1 1462.8,1654.5 1451.9,1654.5 1440.9,1661.6 1430.0,1665.1 1419.1,1668.2 1408.1,1668.5 1397.2,1674.1 1386.2,1675.6 1375.3,1678.8 1364.4,1682.2 1353.4,1685.6 1342.5,1689.2 1331.6,1693.5 1320.6,1698.7 1309.7,1704.0 1298.8,1709.1 1287.8,1714.8 1276.9,1719.6 1265.9,1724.5 1255.0,1729.3 1244.1,1734.5 1233.1,1738.8 1222.2,1743.0 1211.3,1747.1 1200.3,1751.2 1189.4,1755.2 1178.5,1759.3 1167.5,1763.7 1156.6,1768.4 1145.7,1773.0 1134.7,1777.7 1123.8,1782.3 1112.8,1786.5 1101.9,1790.8 1091.0,1795.0 1080.0,1799.2 1069.1,1803.3 1058.2,1806.7 1047.2,1810.1 1036.3,1813.5 1025.4,1816.9 1014.4,1820.7 1003.5,1824.0 992.5,1827.2 981.6,1830.3 970.7,1833.3 959.7,1836.3 948.8,1839.5 937.9,1842.5 926.9,1845.5 916.0,1848.5 905.1,1851.4 894.1,1854.6 883.2,1857.7 872.3,1860.8 861.3,1863.9 850.4,1866.9 839.4,1869.8 828.5,1872.6 817.6,1875.4 806.6,1878.1 795.7,1880.8 784.8,1883.0 773.8,1883.0 762.9,1883.0 752.0,1883.0 741.0,1883.0 730.1,1883.0 719.1,1883.0 708.2,1883.0 697.3,1883.0 686.3,1883.0 675.4,1883.0 664.5,1883.0 653.5,1883.0 642.6,1883.0 631.7,1883.0 620.7,1883.0 609.8,1883.0 598.9,1883.0 587.9,1883.0 577.0,1883.0 566.0,1883.0 555.1,1883.0 544.2,1883.0 533.2,1883.0 522.3,1883.0 511.4,1883.0 500.4,1883.0 489.5,1883.0 478.6,1883.0 467.6,1883.0 456.7,1883.0 445.7,1883.0 434.8,1883.0 423.9,1883.0 412.9,1883.0 402.0,1883.0 391.1,1883.0 380.1,1883.0 369.2,1883.0 358.3,1883.0 347.3,1883.0 336.4,1883.0 325.5,1883.0 314.5,1883.0 303.6,1883.0 292.6,1883.0 281.7,1883.0 270.8,1883.0 259.8,1883.0 248.9,1883.0" fill="#c10c90" fill-opacity="0.5" stroke="#c10c90" stroke-opacity="0.5" stroke-width="2.78" stroke-linejoin="miter"/>
<polyline points="248.9,1883.0 259.8,1883.0 270.8,1883.0 281.7,1883.0 292.6,1883.0 303.6,1883.0 314.5,1883.0 325.5,1883.0 336.4,1883.0 347.3,1883.0 358.3,1883.0 369.2,1883.0 380.1,1883.0 391.1,1883.0 402.0,1883.0 412.9,1883.0 423.9,1883.0 434.8,1883.0 445.7,1883.0 456.7,1883.0 467.6,1883.0 478.6,1883.0 489.5,1883.0 500.4,1883.0 511.4,1883.0 522.3,1883.0 533.2,1883.0 544.2,1883.0 555.1,1883.0 566.0,1883.0 577.0,1883.0 587.9,1883.0 598.9,1883.0 609.8,1883.0 620.7,1883.0 631.7,1883.0 642.6,1883.0 653.5,1883.0 664.5,1883.0 675.4,1883.0 686.3,1883.0 697.3,1883.0 708.2,1883.0 719.1,1883.0 730.1,1883.0 741.0,1883.0 752.0,1883.0 762.9,1883.0 773.8,1883.0 784.8,1883.0 795.7,1880.2 806.6,1877.3 817.6,1874.4 828.5,1871.4 839.4,1868.3 850.4,1865.2 861.3,1862.0 872.3,1858.8 883.2,1855.5 894.1,1852.1 905.1,1848.7 916.0,1845.2 926.9,1841.6 937.9,1838.0 948.8,1834.3 959.7,1830.5 970.7,1826.7 981.6,1822.8 992.5,1818.9 1003.5,1814.9 1014.4,1810.8 1025.4,1806.7 1036.3,1802.5 1047.2,1798.3 1058.2,1793.9 1069.1,1789.6 1080.0,1785.1 1091.0,1780.6 1101.9,1776.0 1112.8,1771.4 1123.8,1766.7 1134.7,1762.0 1145.7,1757.1 1156.6,1752.2 1167.5,1747.3 1178.5,1742.3 1189.4,1737.2 1200.3,1732.1 1211.3,1726.9 1222.2,1721.6 1233.1,1716.3 1244.1,1710.9 1255.0,1705.5 1265.9,1700.0 1276.9,1694.4 1287.8,1688.7 1298.8,1683.0 1309.7,1677.3 1320.6,1671.4 1331.6,1665.6 1342.5,1661.3 1353.4,1657.1 1364.4,1652.8 1375.3,1648.6 1386.2,1644.3 1397.2,1640.1 1408.1,1635.9 1419.1,1631.7 1430.0,1627.5 1440.9,1623.3 1451.9,1619.1 1462.8,1614.9 1473.7,1610.7 1484.7,1606.6 1495.6,1602.4 1506.5,1598.2 1517.5,1594.1 1528.4,1589.9 1539.3,1585.8 1550.3,1581.7 1561.2,1577.5 1572.2,1573.4 1583.1,1569.3 1594.0,1565.2 1605.0,1561.1 1615.9,1557.0 1626.8,1552.9 1637.8,1548.8 1648.7,1544.7 1659.6,1540.6 1670.6,1536.6 1681.5,1532.5 1692.5,1528.5 1703.4,1524.4 1714.3,1520.4 1725.3,1516.3 1736.2,1512.3 1747.1,1508.3 1758.1,1504.3 1769.0,1500.3 1779.9,1496.3 1790.9,1492.3 1801.8,1488.3 1812.7,1484.3 1823.7,1480.3 1834.6,1476.3 1845.6,1472.4 1856.5,1468.4 1867.4,1464.5 1878.4,1460.5" fill="none" stroke="#d62728" stroke-width="4.17" stroke-linecap="round" stroke-linejoin="round"/>
<line x1="167.0" y1="1883.0" x2="1960.0" y2="1883.0" stroke="#000" stroke-opacity="0.5" stroke-width="4.17" stroke-dasharray="15.42 6.67"/>
<line x1="796.0" y1="1355.2" x2="796.0" y2="1908.0" stroke="#ff0000" stroke-opacity="0.7" stroke-width="5.6"/>
<line x1="1343.0" y1="1355.2" x2="1343.0" y2="1908.0" stroke="#ff0000" stroke-opacity="0.7" stroke-width="5.6"/>
</g>
<text x="157.2" y="1897.60" font-size="38.89" text-anchor="end">0</text>
<text x="157.2" y="1778.60" font-size="38.89" text-anchor="end">200</text>
<text x="157.2" y="1659.60" font-size="38.89" text-anchor="end">400</text>
<text x="157.2" y="1540.60" font-size="38.89" text-anchor="end">600</text>
<text x="157.2" y="1421.60" font-size="38.89" text-anchor="end">800</text>
<text x="1063.5" y="1338.5" font-size="44.44" text-anchor="middle">Cumulative Causal Effect</text>
<text transform="translate(63.0 1633.2) rotate(-90)" font-size="41.67" text-anchor="middle">Cumulative Effect</text>
<text x="248.90" y="1948.5" font-size="38.89" text-anchor="middle">0</text>
<text x="467.62" y="1948.5" font-size="38.89" text-anchor="middle">20</text>
<text x="686.34" y="1948.5" font-size="38.89" text-anchor="middle">40</text>
<text x="905.06" y="1948.5" font-size="38.89" text-anchor="middle">60</text>
<text x="1123.78" y="1948.5" font-size="38.89" text-anchor="middle">80</text>
<text x="1342.50" y="1948.5" font-size="38.89" text-anchor="middle">100</text>
<text x="1561.22" y="1948.5" font-size="38.89" text-anchor="middle">120</text>
<text x="1779.94" y="1948.5" font-size="38.89" text-anchor="middle">140</text>
</svg>
</body></html>
